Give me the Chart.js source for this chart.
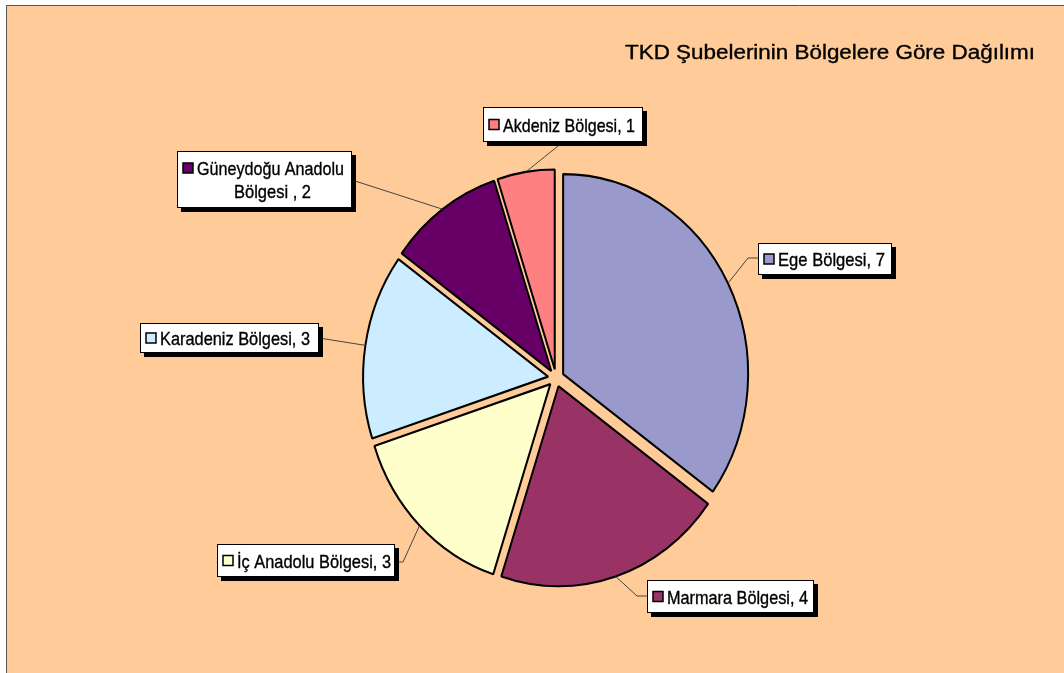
<!DOCTYPE html>
<html>
<head>
<meta charset="utf-8">
<title>TKD Şubelerinin Bölgelere Göre Dağılımı</title>
<script src="https://cdn.jsdelivr.net/npm/chart.js@4/dist/chart.umd.min.js"></script>
<style>
  html, body { margin: 0; padding: 0; background: #fff; }
  #chart { display: block; }
</style>
</head>
<body>
<canvas id="chart" width="1064" height="673"></canvas>
<script>
// Chart data
const chartTitle = 'TKD Şubelerinin Bölgelere Göre Dağılımı';
const regions = ['Ege Bölgesi', 'Marmara Bölgesi', 'İç Anadolu Bölgesi', 'Karadeniz Bölgesi', 'Güneydoğu Anadolu\nBölgesi ', 'Akdeniz Bölgesi'];
const branchCounts = [7, 4, 3, 3, 2, 1];
const sliceColors = ['#9999CC', '#993366', '#FFFFCC', '#CCECFF', '#660066', '#FF8080'];

// Label box layout (one per slice, same order as regions)
const labelBoxes = [
  { x: 758, y: 243, w: 134, h: 32, attach: [758, 258], bend: [[748, 258]], textW: [107] },
  { x: 647, y: 580, w: 167, h: 33, attach: [647, 596], bend: [[637, 596]], textW: [141] },
  { x: 217, y: 544, w: 178, h: 33, attach: [395, 562], bend: [[403, 562]], textW: [154] },
  { x: 140, y: 323, w: 179, h: 30, attach: [319, 338], bend: [], textW: [150] },
  { x: 177, y: 151, w: 175, h: 57, attach: [352, 180], bend: [], textW: [147, 77] },
  { x: 483, y: 107, w: 160, h: 35, attach: [563, 142], bend: [], textW: [132] }
];

const pieCenter = { x: 556, y: 378 };
const pieRadius = 185;
const pieStretchY = 1.081;   // the original pie is a little taller than wide
const explodeDist = 8;       // every slice pulled out by this many px
const fontFamily = '"Liberation Sans", Arial, sans-serif';

// Draw text squeezed/stretched to the width it has in the original
function fitText(ctx, text, x, y, width, size) {
  ctx.save();
  ctx.font = `${size}px ${fontFamily}`;
  const measured = ctx.measureText(text).width;
  ctx.translate(x, y);
  ctx.scale(width / measured, 1);
  ctx.textBaseline = 'alphabetic';
  ctx.fillStyle = '#000';
  ctx.strokeStyle = '#000';
  ctx.lineWidth = 0.35;
  ctx.fillText(text, 0, 0);
  ctx.strokeText(text, 0, 0);
  ctx.restore();
}

const backgroundPlugin = {
  id: 'background',
  beforeDraw(chart) {
    const ctx = chart.ctx;
    ctx.save();
    ctx.fillStyle = '#fff';
    ctx.fillRect(0, 0, chart.width, chart.height);
    ctx.fillStyle = '#FFCC99';
    ctx.fillRect(6, 5, chart.width - 6, chart.height - 5);
    ctx.strokeStyle = '#555';
    ctx.lineWidth = 1;
    ctx.beginPath();
    ctx.moveTo(6.5, chart.height);
    ctx.lineTo(6.5, 5.5);
    ctx.lineTo(chart.width, 5.5);
    ctx.stroke();
    ctx.restore();
  }
};

// Stretch the pie vertically around its center
const stretchPlugin = {
  id: 'stretch',
  beforeDatasetsDraw(chart) {
    const ctx = chart.ctx;
    ctx.save();
    ctx.translate(0, pieCenter.y);
    ctx.scale(1, pieStretchY);
    ctx.translate(0, -pieCenter.y);
  },
  afterDatasetsDraw(chart) {
    chart.ctx.restore();
  }
};

const labelPlugin = {
  id: 'calloutLabels',
  afterDraw(chart) {
    const ctx = chart.ctx;
    const arcs = chart.getDatasetMeta(0).data;

    // Title
    fitText(ctx, chartTitle, 625, 59, 410, 19.5);

    arcs.forEach((arc, i) => {
      const box = labelBoxes[i];
      const mid = (arc.startAngle + arc.endAngle) / 2;
      const r = arc.outerRadius + explodeDist;
      const ax = arc.x + Math.cos(mid) * r;
      const ay = pieCenter.y + (arc.y - pieCenter.y + Math.sin(mid) * r) * pieStretchY;

      // Leader line
      ctx.save();
      ctx.strokeStyle = '#444';
      ctx.lineWidth = 1;
      ctx.beginPath();
      ctx.moveTo(box.attach[0], box.attach[1]);
      box.bend.forEach(p => ctx.lineTo(p[0], p[1]));
      ctx.lineTo(ax, ay);
      ctx.stroke();

      // Box with drop shadow
      ctx.fillStyle = '#000';
      ctx.fillRect(box.x + 4, box.y + 4, box.w, box.h);
      ctx.fillStyle = '#fff';
      ctx.fillRect(box.x, box.y, box.w, box.h);
      ctx.strokeStyle = '#000';
      ctx.strokeRect(box.x + 0.5, box.y + 0.5, box.w - 1, box.h - 1);

      const lines = `${regions[i]}, ${branchCounts[i]}`.split('\n');
      const firstCenter = lines.length > 1 ? box.y + 17 : box.y + box.h / 2;

      // Legend key
      ctx.fillStyle = sliceColors[i];
      ctx.fillRect(box.x + 6, firstCenter - 5, 10, 10);
      ctx.lineWidth = 1.5;
      ctx.strokeStyle = '#000';
      ctx.strokeRect(box.x + 6, firstCenter - 5, 10, 10);
      ctx.restore();

      fitText(ctx, lines[0], box.x + 20, firstCenter + 7, box.textW[0], 18.5);
      if (lines.length > 1) {
        fitText(ctx, lines[1], box.x + 57, firstCenter + 30, box.textW[1], 18.5);
      }
    });
  }
};

const chart = new Chart(document.getElementById('chart'), {
  type: 'pie',
  data: {
    labels: regions,
    datasets: [{
      data: branchCounts,
      backgroundColor: sliceColors,
      borderColor: '#000',
      borderWidth: 2
    }]
  },
  options: {
    responsive: false,
    animation: false,
    events: [],
    radius: pieRadius,
    layout: {
      padding: { left: pieCenter.x * 2 - 1064, top: pieCenter.y * 2 - 673, right: 0, bottom: 0 }
    },
    plugins: {
      legend: { display: false },
      title: { display: false },
      tooltip: { enabled: false }
    }
  },
  plugins: [backgroundPlugin, stretchPlugin, labelPlugin]
});

// Explode each slice outward along its middle angle, without growing its radius
chart.getDatasetMeta(0).data.forEach(arc => {
  const baseDraw = arc.draw;
  arc.draw = function (ctx) {
    const mid = (this.startAngle + this.endAngle) / 2;
    ctx.save();
    ctx.translate(Math.cos(mid) * explodeDist, Math.sin(mid) * explodeDist);
    baseDraw.call(this, ctx);
    ctx.restore();
  };
});
chart.draw();
</script>
</body>
</html>
